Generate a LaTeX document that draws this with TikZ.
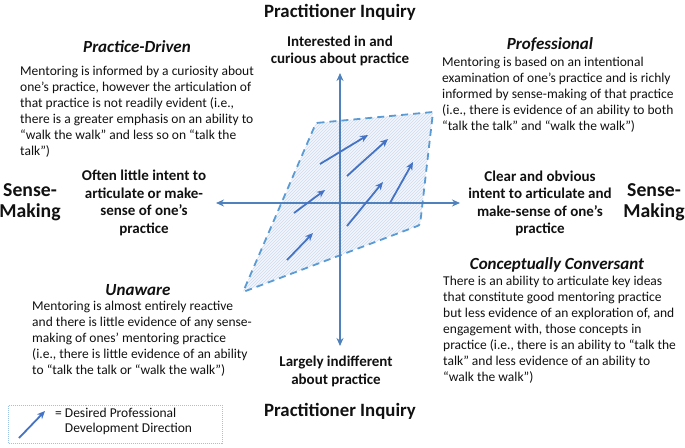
\documentclass[tikz,border=0pt]{standalone}
\usepackage{fontspec}
\setmainfont{Carlito}
\usetikzlibrary{arrows.meta,patterns}
\definecolor{axisblue}{HTML}{4F81BD}
\definecolor{arrblue}{HTML}{4472C4}
\definecolor{dashblue}{HTML}{5B9BD5}
\definecolor{hatchblue}{HTML}{CCDCEF}
\definecolor{paleblue}{HTML}{F4F7FC}
\definecolor{legblue}{HTML}{9DC3E6}
\definecolor{txt}{HTML}{111111}
\tikzset{
  body/.style={font=\fontsize{13.5}{16}\selectfont, align=left, anchor=west, inner sep=0pt, text=txt},
  head/.style={font=\fontsize{17}{19}\selectfont\bfseries\itshape, inner sep=0pt, text=txt},
  axislabel/.style={font=\fontsize{15}{17.5}\selectfont\bfseries, align=center, inner sep=0pt, text=txt},
  bigtitle/.style={font=\fontsize{18.8}{21}\selectfont\bfseries, inner sep=0pt, text=txt},
  sense/.style={font=\fontsize{19.7}{21}\selectfont\bfseries, align=center, inner sep=0pt, text=txt},
  axisline/.style={draw=axisblue, line width=1.8pt, {Stealth[length=8pt,width=7pt]}-{Stealth[length=8pt,width=7pt]}},
  devarrow/.style={draw=arrblue, line width=1.8pt, -{Stealth[length=8pt,width=7pt]}},
  zone/.style={draw=dashblue, line width=1.8pt, dash pattern=on 7pt off 5pt, rounded corners=1.5pt},
}
\begin{document}
\begin{tikzpicture}[x=1pt,y=-1pt]
\useasboundingbox[fill=white] (0,0) rectangle (685,447);

% development zone
\coordinate (z1) at (316,123);
\coordinate (z2) at (433,112);
\coordinate (z3) at (420,225);
\coordinate (z4) at (243,292);
\fill[paleblue] (z1) -- (z2) -- (z3) -- (z4) -- cycle;
\path[pattern=north east lines, pattern color=hatchblue] (z1) -- (z2) -- (z3) -- (z4) -- cycle;
\draw[zone] (z1) -- (z2) -- (z3) -- (z4) -- cycle;

% axes
\coordinate (xl) at (216,203);
\coordinate (xr) at (460,203);
\coordinate (yt) at (340,73);
\coordinate (yb) at (340,346);
\draw[axisline] (xl) -- (xr);
\draw[axisline] (yt) -- (yb);

% development arrows
\coordinate (a1s) at (320,164); \coordinate (a1e) at (368,135);
\coordinate (a2s) at (347,176); \coordinate (a2e) at (388,139);
\coordinate (a3s) at (294,213); \coordinate (a3e) at (325,190);
\coordinate (a4s) at (347,226); \coordinate (a4e) at (383,182);
\coordinate (a5s) at (390,203); \coordinate (a5e) at (413,162);
\coordinate (a6s) at (287,260); \coordinate (a6e) at (313,233);
\draw[devarrow] (a1s) -- (a1e);
\draw[devarrow] (a2s) -- (a2e);
\draw[devarrow] (a3s) -- (a3e);
\draw[devarrow] (a4s) -- (a4e);
\draw[devarrow] (a5s) -- (a5e);
\draw[devarrow] (a6s) -- (a6e);

% axis titles
\node[bigtitle] (ttop) at (340,12) {Practitioner Inquiry};
\node[bigtitle] (tbot) at (340,411) {Practitioner Inquiry};
\node[sense] (sl) at (30,202.5) {Sense-\\Making};
\node[sense] (sr) at (654,202.5) {Sense-\\Making};

% axis end labels
\node[axislabel] (ltop) at (340,51) {Interested in and\\curious about practice};
\node[axislabel] (lbot) at (336,371.5) {Largely indifferent\\about practice};
\node[axislabel] (lleft) at (144,203) {Often little intent to\\articulate or make-\\sense of one’s\\practice};
\node[axislabel] (lright) at (540,203.5) {Clear and obvious\\intent to articulate and\\make-sense of one’s\\practice};

% quadrant headings and descriptions
\node[head] (hpd) at (137,47) {Practice-Driven};
\node[body] (bpd) at (20,112) {Mentoring is informed by a curiosity about\\one’s practice, however the articulation of\\that practice is not readily evident (i.e.,\\there is a greater emphasis on an ability to\\“walk the walk” and less so on “talk the\\talk”)};

\node[head] (hpr) at (550,45) {Professional};
\node[body] (bpr) at (442,95) {Mentoring is based on an intentional\\examination of one’s practice and is richly\\informed by sense-making of that practice\\(i.e., there is evidence of an ability to both\\“talk the talk” and “walk the walk”)};

\node[head] (hun) at (138,290) {Unaware};
\node[body] (bun) at (32,339) {Mentoring is almost entirely reactive\\and there is little evidence of any sense-\\making of ones’ mentoring practice\\(i.e., there is little evidence of an ability\\to “talk the talk or “walk the walk”)};

\node[head] (hcc) at (557,265) {Conceptually Conversant};
\node[body] (bcc) at (443,330) {There is an ability to articulate key ideas\\that constitute good mentoring practice\\but less evidence of an exploration of, and\\engagement with, those concepts in\\practice (i.e., there is an ability to “talk the\\talk” and less evidence of an ability to\\“walk the walk”)};

% legend
\node[draw=legblue, densely dotted, line width=1pt, minimum width=214pt, minimum height=38pt, anchor=north west, inner sep=0pt] (leg) at (8,405) {};
\coordinate (ls) at (19,438);
\coordinate (le) at (45,411);
\draw[devarrow] (ls) -- (le);
\node[body, font=\fontsize{13.5}{15}\selectfont] (lt) at (55,421.5) {= Desired Professional\\\phantom{= }Development Direction};
\end{tikzpicture}
\end{document}
